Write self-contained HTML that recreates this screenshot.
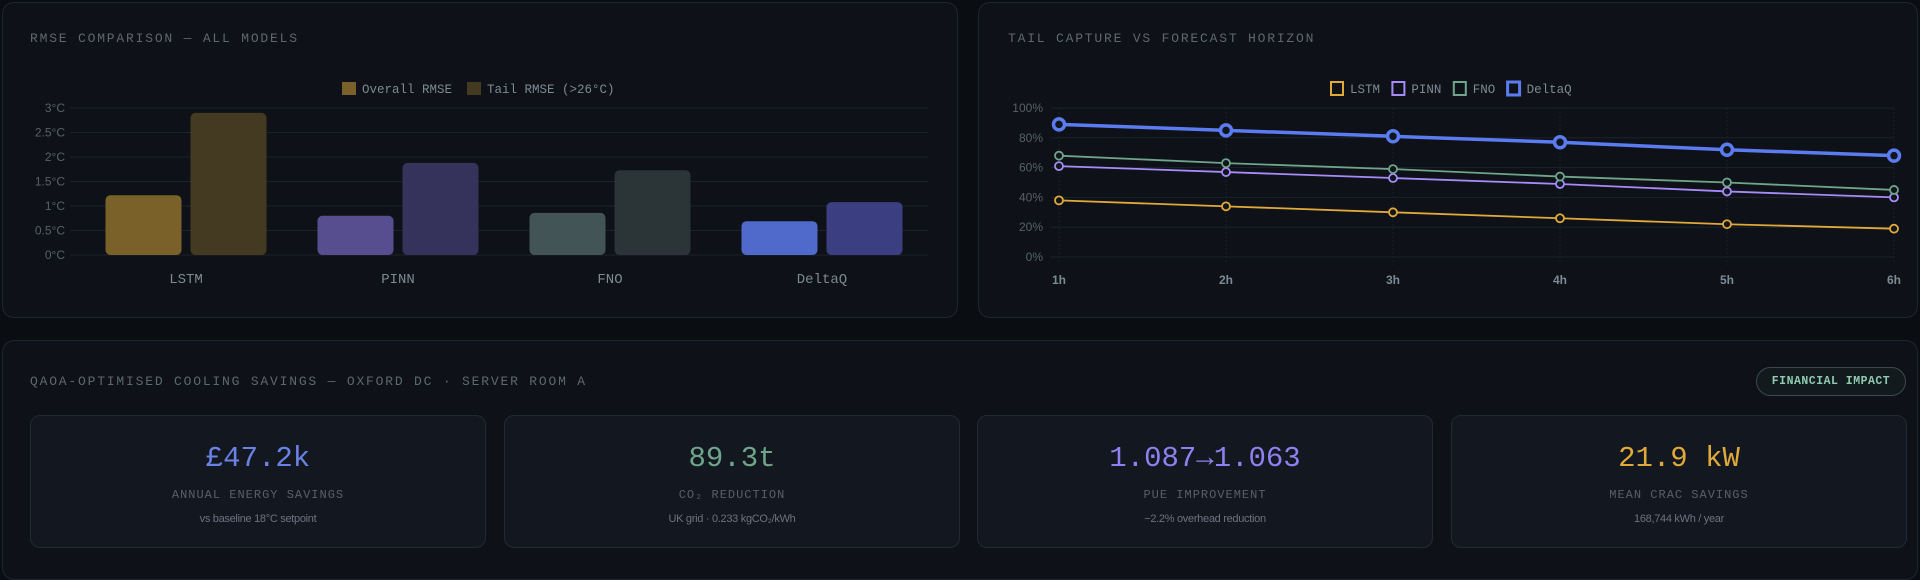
<!DOCTYPE html>
<html><head><meta charset="utf-8">
<style>
html,body{margin:0;padding:0;background:#0a0d12;width:1920px;height:564px;overflow:hidden;font-family:"Liberation Sans",sans-serif}
.panel{position:absolute;background:#0e1117;border:1px solid #1f252e;border-radius:12px;box-sizing:border-box}
.title{position:absolute;font-family:"Liberation Mono",monospace;font-size:13px;letter-spacing:1.8px;color:#5d6872}
.card{position:absolute;top:415px;width:456px;height:133px;background:#131820;border:1px solid #222933;border-radius:10px;box-sizing:border-box;text-align:center}
.val{position:absolute;left:0;right:0;top:26px;font-family:"Liberation Mono",monospace;font-size:29px}
.lab{position:absolute;left:0;right:0;top:72px;font-family:"Liberation Mono",monospace;font-size:12px;letter-spacing:1px;color:#56606a}
.sub{position:absolute;left:0;right:0;top:97px;font-size:11px;color:#6b7380;letter-spacing:-0.3px}
svg text{font-family:"Liberation Sans",sans-serif}
</style></head><body>
<div class="panel" style="left:2px;top:2px;width:956px;height:316px"></div>
<div class="title" style="left:30px;top:31px">RMSE COMPARISON — ALL MODELS</div>
<div class="panel" style="left:978px;top:2px;width:940px;height:316px"></div>
<div class="title" style="left:1008px;top:31px">TAIL CAPTURE VS FORECAST HORIZON</div>
<div class="panel" style="left:2px;top:340px;width:1916px;height:240px"></div>
<div class="title" style="left:30px;top:374px">QAOA-OPTIMISED COOLING SAVINGS — OXFORD DC · SERVER ROOM A</div>
<div style="position:absolute;left:1756px;top:367px;width:150px;height:29px;box-sizing:border-box;border:1px solid #3a4a4a;border-radius:15px;background:#131a1d;color:#8fcbb0;font-family:'Liberation Mono',monospace;font-size:11.5px;letter-spacing:0.5px;font-weight:bold;text-align:center;line-height:27px">FINANCIAL IMPACT</div>

<div class="card" style="left:30px"><div class="val" style="color:#6a82e6">£47.2k</div><div class="lab">ANNUAL ENERGY SAVINGS</div><div class="sub">vs baseline 18°C setpoint</div></div>
<div class="card" style="left:504px"><div class="val" style="color:#6fa58a">89.3t</div><div class="lab">CO₂ REDUCTION</div><div class="sub">UK grid · 0.233 kgCO₂/kWh</div></div>
<div class="card" style="left:977px"><div class="val" style="color:#8f7ff0">1.087→1.063</div><div class="lab">PUE IMPROVEMENT</div><div class="sub">−2.2% overhead reduction</div></div>
<div class="card" style="left:1451px"><div class="val" style="color:#e0a93a">21.9 kW</div><div class="lab">MEAN CRAC SAVINGS</div><div class="sub">168,744 kWh / year</div></div>

<svg id="bar" width="960" height="320" style="position:absolute;left:0;top:0"></svg>
<svg id="line" width="960" height="320" style="position:absolute;left:960px;top:0"></svg>
<script>
const barCats=["LSTM","PINN","FNO","DeltaQ"];
const overallRmse=[1.22,0.80,0.86,0.69];
const tailRmse=[2.90,1.88,1.73,1.08];
const rmseTicks=[0,0.5,1,1.5,2,2.5,3];
const rmseTickLabels=["0°C","0.5°C","1°C","1.5°C","2°C","2.5°C","3°C"];
const lineCats=["1h","2h","3h","4h","5h","6h"];
const lstmTail=[38,34,30,26,22,19];
const pinnTail=[61,57,53,49,44,40];
const fnoTail=[68,63,59,54,50,45];
const deltaqTail=[89,85,81,77,72,68];
const pctTicks=[0,20,40,60,80,100];
const NS="http://www.w3.org/2000/svg";
function mk(p,t,a){const e=document.createElementNS(NS,t);for(const k in a)e.setAttribute(k,a[k]);p.appendChild(e);return e;}
// bar chart
const b=document.getElementById('bar');
const bx0=80,bx1=928,by0=255,by1=108;
const yB=v=>by0-(v/3)*(by0-by1);
const band=(bx1-bx0)/barCats.length;
rmseTicks.forEach((t,i)=>{
 const g=mk(b,'line',{x1:70,x2:bx1,y1:yB(t),y2:yB(t),stroke:'#1c222a','stroke-width':1});
 
 
 const tx=mk(b,'text',{x:65,y:yB(t)+4,'text-anchor':'end','font-size':12,fill:'#56616b'});
 tx.textContent=rmseTickLabels[i];
 
 
});
const ovCols=['#7a6129','#574e8f','#435457','#4f6acb'];
const tlCols=['#443a22','#35335c','#2b3538','#3b3f82'];
barCats.forEach((c,i)=>{
 const cx=bx0+band*i+band/2;
 const w=76;
 const r1=mk(b,'rect',{x:cx-w-4.5,y:yB(overallRmse[i]),width:w,height:by0-yB(overallRmse[i]),rx:5,fill:ovCols[i]});
 
 
 const r2=mk(b,'rect',{x:cx+4.5,y:yB(tailRmse[i]),width:w,height:by0-yB(tailRmse[i]),rx:5,fill:tlCols[i]});
 
 
 const t=mk(b,'text',{x:cx,y:283,'text-anchor':'middle','font-size':14,fill:'#7d8a94','font-family':'Liberation Mono, monospace'});
 t.setAttribute('style','font-family:"Liberation Mono",monospace');
 t.textContent=c;
 
 
});
[[342,'#7a6129','Overall RMSE'],[467,'#443a22','Tail RMSE (>26°C)']].forEach(l=>{
 const s=mk(b,'rect',{x:l[0],y:82,width:14,height:13,fill:l[1]});
 
 
 const t=mk(b,'text',{x:l[0]+20,y:93,'font-size':12.5,fill:'#7d8a94',style:'font-family:"Liberation Mono",monospace'});
 t.textContent=l[2];
 
 
});
// line chart
const L=document.getElementById('line');
const lx0=99,lx1=934,ly0=257,ly1=108;
const xL=i=>lx0+(lx1-lx0)*i/(lineCats.length-1);
const yL=v=>ly0-(v/100)*(ly0-ly1);
pctTicks.forEach(t=>{
 const g=mk(L,'line',{x1:lx0-8,x2:lx1,y1:yL(t),y2:yL(t),stroke:'#1c222a','stroke-width':1});
 
 
 const tx=mk(L,'text',{x:83,y:yL(t)+4,'text-anchor':'end','font-size':12,fill:'#56616b'});
 tx.textContent=t+'%';
 
 
});
lineCats.forEach((c,i)=>{
 const g=mk(L,'line',{x1:xL(i),x2:xL(i),y1:ly1,y2:ly0+8,stroke:'#1a2028','stroke-width':1,'stroke-dasharray':'2,2'});
 
 
 const t=mk(L,'text',{x:xL(i),y:284,'text-anchor':'middle','font-size':12,fill:'#7d8a94','font-weight':'bold'});
 t.textContent=c;
 
 
});
const series=[["LSTM",lstmTail,'#e0a93a',1.8,4],["PINN",pinnTail,'#a78bfa',1.8,4],["FNO",fnoTail,'#6fa58a',1.8,4],["DeltaQ",deltaqTail,'#5b7cf0',3.5,5.5]];
series.forEach(s=>{
 const p=mk(L,'polyline',{points:s[1].map((v,i)=>xL(i)+','+yL(v)).join(' '),fill:'none',stroke:s[2],'stroke-width':s[3]});
 
 
 s[1].forEach((v,i)=>{
  const c=mk(L,'circle',{cx:xL(i),cy:yL(v),r:s[4],fill:'#11151c',stroke:s[2],'stroke-width':s[3]});
  
  
 });
});
let lx=370;
series.forEach(s=>{
 const r=mk(L,'rect',{x:lx+1,y:82,width:12,height:13,fill:'none',stroke:s[2],'stroke-width':s[0]==='DeltaQ'?3:2});
 
 
 const t=mk(L,'text',{x:lx+20,y:93,'font-size':12.5,fill:'#7d8a94',style:'font-family:"Liberation Mono",monospace'});
 t.textContent=s[0];
 
 
 lx+=20+s[0].length*7.6+11;
});
</script>
</body></html>
